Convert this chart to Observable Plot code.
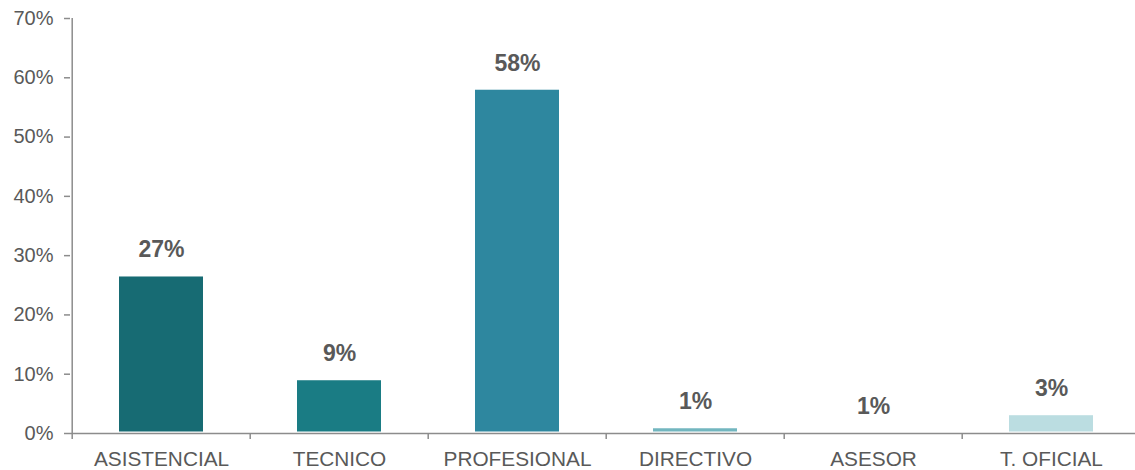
<!DOCTYPE html>
<html>
<head>
<meta charset="utf-8">
<script src="https://cdn.jsdelivr.net/npm/d3@7"></script>
<script src="https://cdn.jsdelivr.net/npm/@observablehq/plot@0.6"></script>
<style>
  html, body { margin: 0; padding: 0; background: #fff; }
  #chart svg { display: block; overflow: visible; }
</style>
</head>
<body>
<div id="chart"></div>
<script>
const categories = ["ASISTENCIAL", "TECNICO", "PROFESIONAL", "DIRECTIVO", "ASESOR", "T. OFICIAL"];
const values = [26.4, 8.9, 57.9, 0.8, 0.0, 3.0];
const labels = ["27%", "9%", "58%", "1%", "1%", "3%"];
const colors = ["#176b73", "#1a7c84", "#2e879f", "#72b6bf", "#97c9cf", "#bbdde1"];
const yTicks = [0, 10, 20, 30, 40, 50, 60, 70];

const data = categories.map((c, i) => ({cat: c, value: values[i], label: labels[i], color: colors[i]}));

const xRange = [70, 1141.6];
const step = (xRange[1] - xRange[0]) / categories.length;

const chart = Plot.plot({
  width: 1135,
  height: 470,
  marginLeft: 70,
  marginRight: 0,
  marginTop: 18,
  marginBottom: 37,
  style: {fontFamily: "'Liberation Sans', Arial, sans-serif", background: "#fff", overflow: "visible"},
  x: {domain: categories, range: xRange, padding: 0},
  y: {domain: [0, 70]},
  marks: [
    Plot.barY(data, {x: "cat", y: "value", fill: "color", insetLeft: 47, insetRight: 47, insetBottom: 1.5}),
    Plot.ruleY([0], {stroke: "#8c8c8c", strokeWidth: 1.5}),
    Plot.ruleX(data, {x: "cat", y1: 0, y2: -1, dx: -step / 2, stroke: "#8c8c8c", strokeWidth: 1.5}),
    Plot.ruleX([categories[0]], {y1: 0, y2: 70, dx: -step / 2, stroke: "#8c8c8c", strokeWidth: 1.5}),
    Plot.axisY({ticks: yTicks, tickFormat: d => d + "%", tickSize: 6, tickPadding: 11,
      stroke: "#8c8c8c", strokeWidth: 1.5, fill: "#595959", fontSize: 20, label: null}),
    Plot.axisX({tickSize: 0, tickPadding: 18, fill: "#595959", fontSize: 20.8, label: null}),
    Plot.text(data, {x: "cat", y: "value", text: "label", dy: -27, fill: "#595959",
      fontSize: 23, fontWeight: "bold"})
  ]
});

document.getElementById("chart").appendChild(chart);
</script>
</body>
</html>
